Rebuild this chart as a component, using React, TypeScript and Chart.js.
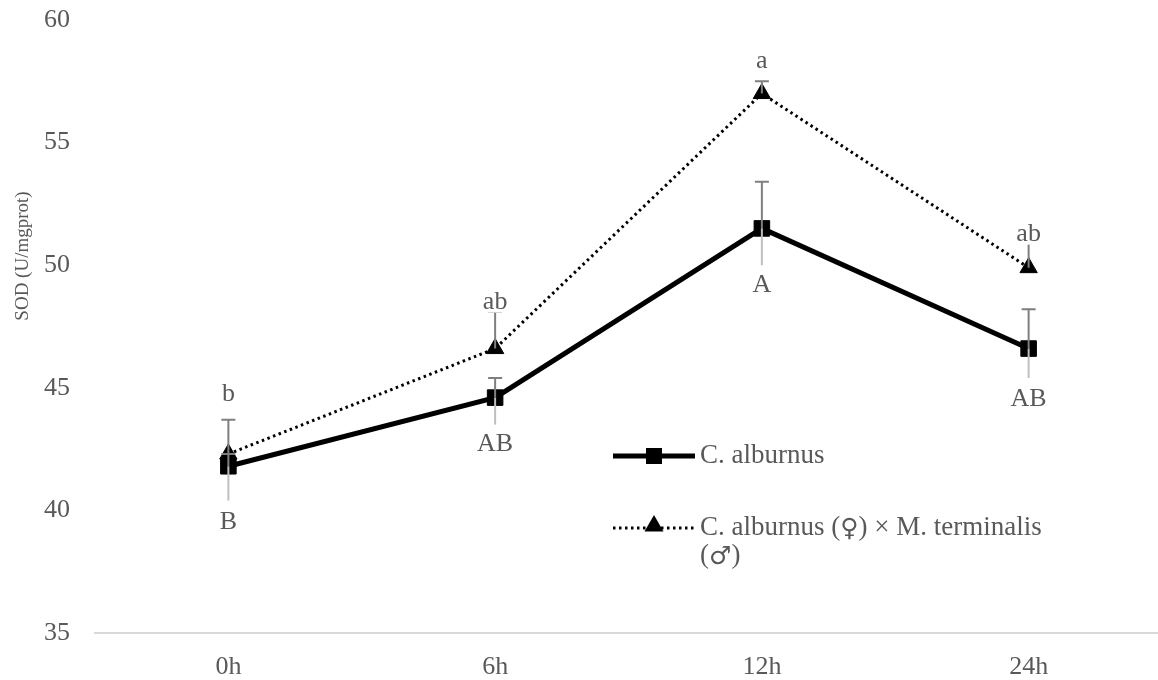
import React, { useEffect, useRef } from "react";
import { Chart, registerables } from "chart.js";

Chart.register(...registerables);

const categories = ["0h", "6h", "12h", "24h"];
const alburnusValues = [41.8, 44.6, 51.5, 46.6];
const hybridValues = [42.3, 46.6, 57.0, 49.9];
const alburnusErrUp = [0.5, 0.8, 1.9, 1.6];
const alburnusErrDown = [1.4, 1.1, 1.5, 1.2];
const hybridErrUp = [1.4, 1.5, 0.5, 1.1];
const hybridLetters = ["b", "ab", "a", "ab"];
const alburnusLetters = ["B", "AB", "A", "AB"];
const yMin = 35;
const yMax = 60;
const yStep = 5;
const yTitle = "SOD (U/mgprot)";
const alburnusName = ["C. alburnus"];
const hybridName = ["C. alburnus (♀) × M. terminalis", "(♂)"];

// label pixel offsets (layout, not data)
const hybridLetterOffset = [-60, -46, -32, -33];
const alburnusLetterOffset = [56, 47, 57, 51];

const TEXT = "#595959";
const FONT = "'Liberation Serif', 'Times New Roman', serif";
const SYMBOL_FONT = "'DejaVu Sans', sans-serif";
const LEGEND_SIZE = 27;

function drawTriangle(ctx: CanvasRenderingContext2D, x: number, y: number, r: number) {
  ctx.beginPath();
  ctx.moveTo(x, y - r);
  ctx.lineTo(x + r * 0.866, y + r / 2);
  ctx.lineTo(x - r * 0.866, y + r / 2);
  ctx.closePath();
  ctx.fill();
}

// draws text left-aligned; gender symbols use a symbol font
function drawRich(ctx: CanvasRenderingContext2D, text: string, x: number, y: number) {
  const parts = text.split(/([♀♂])/);
  let cx = x;
  parts.forEach((p) => {
    if (!p) return;
    const sym = p === "♀" || p === "♂";
    ctx.font = sym ? `${LEGEND_SIZE - 2}px ${SYMBOL_FONT}` : `${LEGEND_SIZE}px ${FONT}`;
    ctx.fillText(p, cx, y + (sym ? 1 : 0));
    cx += ctx.measureText(p).width;
  });
}

const overlayPlugin = {
  id: "overlay",
  afterDatasetsDraw(chart: any) {
    const ctx: CanvasRenderingContext2D = chart.ctx;
    const xs = chart.scales.x;
    const ys = chart.scales.y;
    ctx.save();
    const cap = 7;
    const drawUp = (vals: number[], ups: number[]) => {
      vals.forEach((v, i) => {
        const x = xs.getPixelForValue(i);
        const y0 = ys.getPixelForValue(v);
        const y1 = ys.getPixelForValue(v + ups[i]);
        ctx.strokeStyle = "#7f7f7f";
        ctx.lineWidth = 2;
        ctx.setLineDash([]);
        ctx.beginPath();
        ctx.moveTo(x, y0);
        ctx.lineTo(x, y1);
        ctx.moveTo(x - cap, y1);
        ctx.lineTo(x + cap, y1);
        ctx.stroke();
      });
    };
    const drawDown = (vals: number[], downs: number[]) => {
      vals.forEach((v, i) => {
        const x = xs.getPixelForValue(i);
        const y0 = ys.getPixelForValue(v);
        const y1 = ys.getPixelForValue(v - downs[i]);
        ctx.strokeStyle = "#bfbfbf";
        ctx.lineWidth = 2;
        ctx.beginPath();
        ctx.moveTo(x, y0);
        ctx.lineTo(x, y1);
        ctx.stroke();
      });
    };
    drawUp(hybridValues, hybridErrUp);
    drawUp(alburnusValues, alburnusErrUp);
    drawDown(alburnusValues, alburnusErrDown);

    ctx.font = `26px ${FONT}`;
    ctx.textAlign = "center";
    ctx.textBaseline = "middle";
    const drawLabel = (text: string, x: number, y: number) => {
      const w = ctx.measureText(text).width;
      ctx.fillStyle = "#ffffff";
      ctx.fillRect(x - w / 2 - 1, y - 10, w + 2, 20);
      ctx.fillStyle = TEXT;
      ctx.fillText(text, x, y);
    };
    hybridValues.forEach((v, i) => {
      drawLabel(hybridLetters[i], xs.getPixelForValue(i), ys.getPixelForValue(v) + hybridLetterOffset[i]);
    });
    alburnusValues.forEach((v, i) => {
      drawLabel(alburnusLetters[i], xs.getPixelForValue(i), ys.getPixelForValue(v) + alburnusLetterOffset[i]);
    });

    // legend
    const lx0 = 613, lx1 = 695, mx = 654, tx = 700;
    const r1 = 456, r2 = 528, lh = 28;
    ctx.strokeStyle = "#000";
    ctx.fillStyle = "#000";
    ctx.lineWidth = 5;
    ctx.setLineDash([]);
    ctx.beginPath();
    ctx.moveTo(lx0, r1);
    ctx.lineTo(lx1, r1);
    ctx.stroke();
    ctx.fillRect(mx - 8, r1 - 8, 16, 16);
    ctx.lineWidth = 3;
    ctx.setLineDash([2.5, 3.5]);
    ctx.beginPath();
    ctx.moveTo(lx0, r2);
    ctx.lineTo(lx1, r2);
    ctx.stroke();
    ctx.setLineDash([]);
    drawTriangle(ctx, mx, r2 - 2, 11);
    ctx.fillStyle = TEXT;
    ctx.textAlign = "left";
    alburnusName.forEach((t, k) => drawRich(ctx, t, tx, r1 + k * lh));
    hybridName.forEach((t, k) => drawRich(ctx, t, tx, r2 + k * lh));

    // y axis title
    ctx.save();
    ctx.translate(23, 256);
    ctx.rotate(-Math.PI / 2);
    ctx.textAlign = "center";
    ctx.font = `19px ${FONT}`;
    ctx.fillText(yTitle, 0, 0);
    ctx.restore();
    ctx.restore();
  },
};

export default function App() {
  const ref = useRef<HTMLCanvasElement | null>(null);
  useEffect(() => {
    if (!ref.current) return;
    const chart = new Chart(ref.current, {
      type: "line",
      data: {
        labels: categories,
        datasets: [
          {
            label: alburnusName.join(" "),
            data: alburnusValues,
            borderColor: "#000",
            backgroundColor: "#000",
            borderWidth: 5,
            pointStyle: "rect",
            pointRadius: 11,
            pointBorderWidth: 1,
            tension: 0,
          },
          {
            label: hybridName.join(" "),
            data: hybridValues,
            borderColor: "#000",
            backgroundColor: "#000",
            borderWidth: 3,
            borderDash: [2.5, 3.5],
            pointStyle: "triangle",
            pointRadius: 10,
            pointBorderWidth: 1,
            tension: 0,
          },
        ],
      },
      options: {
        animation: false,
        responsive: false,
        layout: { padding: { top: 20, right: 0, left: 0, bottom: 0 } },
        plugins: { legend: { display: false }, tooltip: { enabled: false } },
        scales: {
          x: {
            offset: true,
            grid: { display: false, drawTicks: false },
            border: { display: true, color: "#d9d9d9", width: 2 },
            ticks: { color: TEXT, font: { family: FONT, size: 26 }, padding: 19 },
            afterFit: (s: any) => {
              s.height = 47;
            },
          },
          y: {
            min: yMin,
            max: yMax,
            grid: { display: false, drawTicks: false },
            border: { display: false },
            ticks: { stepSize: yStep, color: TEXT, font: { family: FONT, size: 26 }, padding: 25 },
            afterFit: (s: any) => {
              s.width = 95;
              s.paddingTop = 0;
              s.paddingBottom = 0;
            },
          },
        },
      },
      plugins: [overlayPlugin],
    });
    return () => chart.destroy();
  }, []);
  return (
    <div style={{ position: "absolute", left: 0, top: 0, width: 1158, height: 680, overflow: "hidden" }}>
      <canvas ref={ref} width={1174} height={680} />
    </div>
  );
}
